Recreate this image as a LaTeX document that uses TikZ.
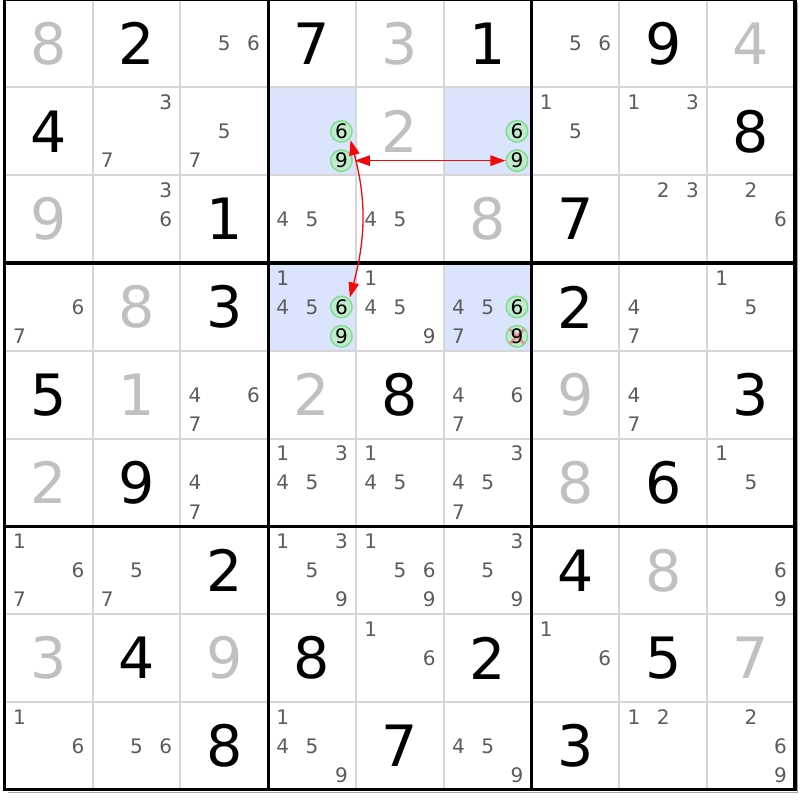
\documentclass[tikz,border=0pt]{standalone}
\usepackage{fontspec}
\setmainfont{DejaVu Sans}
\usetikzlibrary{arrows.meta}
\definecolor{hlc}{RGB}{218,228,252}
\definecolor{thinc}{RGB}{214,214,214}
\definecolor{solvc}{RGB}{192,192,192}
\definecolor{candc}{RGB}{92,92,92}
\definecolor{cfill}{RGB}{192,234,206}
\definecolor{cdraw}{RGB}{130,222,142}
\definecolor{xred}{RGB}{240,140,140}
\definecolor{arrc}{RGB}{240,10,10}
\definecolor{shadc}{RGB}{165,165,165}
\tikzset{
  givenst/.style={inner sep=0pt,font=\fontsize{57}{60}\selectfont,text=black},
  solvst/.style={inner sep=0pt,font=\fontsize{57}{60}\selectfont,text=solvc},
  candst/.style={inner sep=0pt,font=\fontsize{20}{21}\selectfont,text=candc},
  circst/.style={circle,inner sep=0pt,minimum size=21.5pt,line width=1.5pt,draw=cdraw,fill=cfill,font=\fontsize{20}{21}\selectfont,text=black},
  circtxt/.style={inner sep=0pt,font=\fontsize{20}{21}\selectfont,text=black},
  thinline/.style={line width=2pt,draw=thinc},
  thickline/.style={line width=3.2pt,draw=black},
  arrst/.style={line width=1.3pt,draw=arrc,{Triangle[length=15pt,width=10.5pt,fill=arrc]}-{Triangle[length=15pt,width=10.5pt,fill=arrc]}},
  xst/.style={line width=2.5pt,draw=xred},
  shadst/.style={line width=1.2pt,draw=shadc}
}
\newcommand\givenD[3]{\node[givenst] (g-#1-#2) at ({4.8+(#2+0.5)*87.8},{800.3-(#1+0.5)*87.8}) {#3};}
\newcommand\solvedD[3]{\node[solvst] (s-#1-#2) at ({4.8+(#2+0.5)*87.8},{800.3-(#1+0.5)*87.8}) {#3};}
\newcommand\candD[3]{\foreach \dd in {#3}{\node[candst] (c-#1-#2-\dd) at ({4.8+#2*87.8+(2*mod(\dd-1,3)+1)*87.8/6},{800.3-#1*87.8-(2*int((\dd-1)/3)+1)*87.8/6}) {\dd};}}
\newcommand\circD[4]{\node[circst] (#4) at ({4.8+#2*87.8+(2*mod(#3-1,3)+1)*87.8/6},{800.3-#1*87.8-(2*int((#3-1)/3)+1)*87.8/6}) {#3};}
\newcommand\hlcell[2]{\fill[hlc] ({4.8+#2*87.8},{800.3-#1*87.8}) rectangle ++(87.8,-87.8);}
\begin{document}
\begin{tikzpicture}[x=1pt,y=1pt]
\useasboundingbox (0,0) rectangle (800,800);
\fill[white] (0,0) rectangle (800,800);
% highlighted cells
\hlcell{1}{3}\hlcell{1}{5}\hlcell{3}{3}\hlcell{3}{5}
% grid
\foreach \i in {1,2,4,5,7,8}{
  \draw[thinline] ({4.8+\i*87.8},800.3) -- ({4.8+\i*87.8},10.1);
  \draw[thinline] (4.8,{800.3-\i*87.8}) -- (795,{800.3-\i*87.8});
}
\draw[shadst] (797.3,797) -- (797.3,7.8) -- (8,7.8);
\foreach \i in {0,3,6,9}{
  \draw[thickline] ({4.8+\i*87.8},801.9) -- ({4.8+\i*87.8},8.5);
  \draw[thickline] (3.2,{800.3-\i*87.8}) -- (796.6,{800.3-\i*87.8});
}
% row 0
\solvedD{0}{0}{8}\givenD{0}{1}{2}\candD{0}{2}{5,6}\givenD{0}{3}{7}\solvedD{0}{4}{3}\givenD{0}{5}{1}\candD{0}{6}{5,6}\givenD{0}{7}{9}\solvedD{0}{8}{4}
% row 1
\givenD{1}{0}{4}\candD{1}{1}{3,7}\candD{1}{2}{5,7}\solvedD{1}{4}{2}\candD{1}{6}{1,5}\candD{1}{7}{1,3}\givenD{1}{8}{8}
\circD{1}{3}{6}{a6}\circD{1}{3}{9}{a9}
\circD{1}{5}{6}{b6}\circD{1}{5}{9}{b9}
% row 2
\solvedD{2}{0}{9}\candD{2}{1}{3,6}\givenD{2}{2}{1}\candD{2}{3}{4,5}\candD{2}{4}{4,5}\solvedD{2}{5}{8}\givenD{2}{6}{7}\candD{2}{7}{2,3}\candD{2}{8}{2,6}
% row 3
\candD{3}{0}{6,7}\solvedD{3}{1}{8}\givenD{3}{2}{3}\candD{3}{3}{1,4,5}\candD{3}{4}{1,4,5,9}\candD{3}{5}{4,5,7}\givenD{3}{6}{2}\candD{3}{7}{4,7}\candD{3}{8}{1,5}
\circD{3}{3}{6}{c6}\circD{3}{3}{9}{c9}
\circD{3}{5}{6}{d6}
\node[circst] (d9) at ({4.8+5*87.8+5*87.8/6},{800.3-3*87.8-5*87.8/6}) {};
\draw[xst] ([shift={(-7,-7)}]d9.center) -- ([shift={(7,7)}]d9.center);
\draw[xst] ([shift={(-7,7)}]d9.center) -- ([shift={(7,-7)}]d9.center);
\node[circtxt] (d9t) at (d9) {9};
% row 4
\givenD{4}{0}{5}\solvedD{4}{1}{1}\candD{4}{2}{4,6,7}\solvedD{4}{3}{2}\givenD{4}{4}{8}\candD{4}{5}{4,6,7}\solvedD{4}{6}{9}\candD{4}{7}{4,7}\givenD{4}{8}{3}
% row 5
\solvedD{5}{0}{2}\givenD{5}{1}{9}\candD{5}{2}{4,7}\candD{5}{3}{1,3,4,5}\candD{5}{4}{1,4,5}\candD{5}{5}{3,4,5,7}\solvedD{5}{6}{8}\givenD{5}{7}{6}\candD{5}{8}{1,5}
% row 6
\candD{6}{0}{1,6,7}\candD{6}{1}{5,7}\givenD{6}{2}{2}\candD{6}{3}{1,3,5,9}\candD{6}{4}{1,5,6,9}\candD{6}{5}{3,5,9}\givenD{6}{6}{4}\solvedD{6}{7}{8}\candD{6}{8}{6,9}
% row 7
\solvedD{7}{0}{3}\givenD{7}{1}{4}\solvedD{7}{2}{9}\givenD{7}{3}{8}\candD{7}{4}{1,6}\givenD{7}{5}{2}\candD{7}{6}{1,6}\givenD{7}{7}{5}\solvedD{7}{8}{7}
% row 8
\candD{8}{0}{1,6}\candD{8}{1}{5,6}\givenD{8}{2}{8}\candD{8}{3}{1,4,5,9}\givenD{8}{4}{7}\candD{8}{5}{4,5,9}\givenD{8}{6}{3}\candD{8}{7}{1,2}\candD{8}{8}{2,6,9}
% links
\draw[arrst,shorten <=2pt,shorten >=0pt] (a9.east) -- (b9.west);
\draw[arrst,shorten <=1.5pt,shorten >=1.5pt] (a6.-40) to[out=-75,in=75] (c6.45);
\end{tikzpicture}
\end{document}
